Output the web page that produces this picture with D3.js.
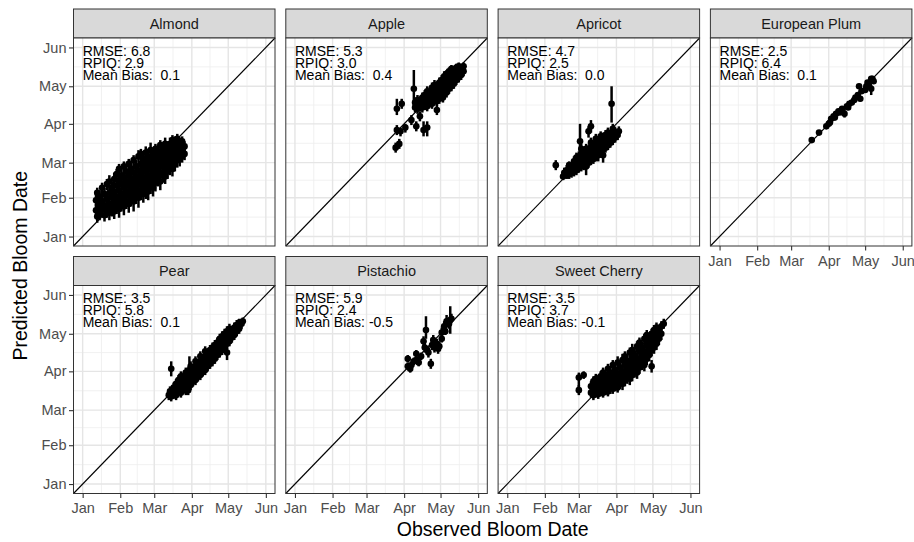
<!DOCTYPE html>
<html>
<head>
<meta charset="utf-8">
<script src="https://cdn.jsdelivr.net/npm/d3@7"></script>
<style>
  body { margin: 0; background: #fff; }
  svg { font-family: "Liberation Sans", Arial, sans-serif; }
</style>
</head>
<body>
<svg id="chart" width="914" height="542"></svg>
<script>
// all dates are day of year (Jan 1 = 1), rows are [observed, predicted, lower, upper]
var crops = ["Almond", "Apple", "Apricot", "European Plum", "Pear", "Pistachio", "Sweet Cherry"];
var rmse = [6.8, 5.3, 4.7, 2.5, 3.5, 5.9, 3.5];
var rpiq = [2.9, 3.0, 2.5, 6.4, 5.8, 2.4, 3.7];
var meanBias = [0.1, 0.4, 0.0, 0.1, 0.1, -0.5, -0.1];
var monthLabels = ["Jan", "Feb", "Mar", "Apr", "May", "Jun"];
var monthDays = [1, 32, 60, 91, 121, 152];

var almond = [
  [12,22,17,27],[12,30,25,35],[13,17,12,21],[13,36,31,40],[14,26,20,31],[15,19,14,25],[15,33,28,38],
  [17,23,17,29],[17,29,24,35],[17,40,35,44],[19,18,13,23],[19,26,20,32],[19,35,30,40],
  [21,22,16,28],[21,31,25,36],[21,43,38,47],[23,20,14,26],[23,27,22,33],[23,36,31,42],[23,45,40,50],
  [25,24,17,29],[25,32,26,38],[25,40,35,45],[27,21,15,27],[27,29,23,35],[27,37,31,42],[27,47,42,52],
  [29,25,19,31],[29,33,27,39],[29,42,36,47],[29,51,46,55],
  [31,23,16,30],[31,30,24,36],[31,38,32,44],[31,46,40,51],[31,55,50,59],
  [33,27,21,33],[33,35,29,40],[33,43,38,49],[33,50,45,56],
  [35,25,18,31],[35,32,26,38],[35,40,34,46],[35,48,42,53],[35,57,52,61],
  [37,29,23,35],[37,37,31,43],[37,45,39,50],[37,53,47,58],
  [39,27,20,34],[39,34,28,40],[39,42,36,48],[39,50,44,55],[39,59,54,63],
  [41,31,25,37],[41,39,33,45],[41,47,41,52],[41,55,50,60],
  [43,29,21,35],[43,36,30,42],[43,44,38,50],[43,52,46,57],[43,62,57,66],
  [45,33,27,39],[45,41,35,47],[45,49,43,55],[45,57,52,62],
  [47,32,24,38],[47,38,32,44],[47,46,40,52],[47,54,48,60],[47,65,60,70],
  [49,36,30,42],[49,43,37,49],[49,51,45,56],[49,59,54,64],[49,67,62,71],
  [51,35,28,41],[51,41,35,47],[51,48,42,54],[51,56,50,61],[51,63,58,68],
  [53,38,31,44],[53,45,39,51],[53,53,47,59],[53,61,56,66],[53,68,63,73],
  [55,37,30,43],[55,44,38,50],[55,50,44,56],[55,58,52,63],[55,65,60,71],
  [57,41,35,47],[57,48,42,54],[57,55,49,60],[57,62,57,67],[57,70,65,76],
  [59,40,33,46],[59,46,40,52],[59,53,47,58],[59,60,54,65],[59,67,62,72],
  [61,44,37,50],[61,51,45,57],[61,57,51,63],[61,64,59,70],[61,71,66,75],
  [63,47,41,53],[63,54,48,60],[63,61,55,66],[63,68,63,73],
  [65,45,38,51],[65,52,46,58],[65,59,53,64],[65,66,61,71],[65,74,69,78],
  [67,50,44,56],[67,57,51,62],[67,63,58,68],[67,70,65,75],
  [69,49,43,55],[69,55,49,61],[69,61,55,66],[69,68,63,73],[69,75,70,80],
  [71,53,47,59],[71,59,53,64],[71,65,60,71],[71,72,67,77],
  [73,56,50,62],[73,62,56,67],[73,68,63,73],[73,75,70,80],
  [75,55,49,61],[75,60,54,65],[75,66,61,71],[75,72,67,78],[75,78,73,82],
  [77,59,53,64],[77,64,59,70],[77,70,65,75],[77,76,71,81],
  [79,62,56,67],[79,67,62,72],[79,73,68,78],[79,79,74,83],
  [81,63,57,68],[81,69,63,74],[81,76,71,80],
  [83,65,60,70],[83,71,66,76],[83,77,72,81],[85,67,62,72],[85,73,68,77]
];
var apple = [
  [84,72,68,76],[87,75,71,79],[85,86,82,90],[88,85,81,88],[92,88,84,91],[85,103,98,111],
  [89,107,103,111],[99,119,105,134],[101,89,85,93],[107,86,81,93],[110,88,81,93],[104,97,93,101],
  [97,94,90,98],[118,102,98,106],[123,112,108,116],
  [100,104,100,108],[100,108,104,112],[102,103,99,107],[102,107,103,111],[102,110,106,114],
  [104,105,101,109],[104,109,105,113],[106,104,100,108],[106,108,104,112],[106,112,108,116],
  [108,106,102,110],[108,110,106,114],[108,114,110,118],
  [110,105,101,109],[110,109,105,113],[110,113,109,117],[110,117,113,121],
  [112,108,104,112],[112,112,108,116],[112,116,112,120],
  [114,107,103,111],[114,111,107,115],[114,115,111,119],[114,120,116,124],
  [116,110,106,114],[116,114,110,118],[116,118,114,122],[116,122,118,126],
  [118,109,105,113],[118,113,109,117],[118,117,113,121],[118,121,117,125],
  [120,111,107,115],[120,115,111,119],[120,119,115,123],[120,124,120,128],
  [122,113,109,117],[122,118,114,122],[122,122,118,126],[122,126,122,130],
  [124,115,111,119],[124,120,116,124],[124,124,120,128],[124,129,125,133],
  [126,116,112,120],[126,121,117,125],[126,126,122,130],[126,131,127,134],
  [128,119,115,123],[128,124,120,128],[128,128,124,132],[128,133,129,136],
  [130,121,117,125],[130,126,122,130],[130,131,127,135],[130,135,131,138],
  [132,123,119,127],[132,128,124,132],[132,133,129,137],
  [134,126,122,130],[134,131,127,135],[134,136,132,139],
  [136,128,124,132],[136,133,129,137],[136,137,133,140],
  [138,130,126,134],[138,135,131,139],[140,133,129,136],[140,137,133,140]
];
var apricot = [
  [41,58,54,62],[47,49,46,52],[48,52,49,56],[50,50,47,54],[50,54,50,58],
  [52,51,47,55],[52,55,51,59],[52,58,54,61],[54,52,48,56],[54,56,52,60],
  [56,53,49,57],[56,57,53,61],[56,61,57,65],[58,54,50,58],[58,59,55,63],[58,64,60,68],
  [60,56,52,60],[60,60,56,64],[60,65,61,69],[61,77,72,91],
  [62,57,53,61],[62,62,58,66],[62,67,63,71],[62,71,67,75],
  [64,58,54,62],[64,63,59,67],[64,68,64,72],
  [66,57,50,61],[66,61,57,65],[66,66,62,70],[66,71,67,75],
  [68,60,56,64],[68,65,61,69],[68,70,66,74],[68,85,80,89],[70,89,84,94],
  [70,62,58,66],[70,67,63,71],[70,72,68,76],[70,76,72,80],
  [72,63,59,67],[72,68,64,72],[72,73,69,77],
  [74,65,61,69],[74,70,66,74],[74,75,71,79],[74,79,75,83],
  [76,66,61,70],[76,72,68,76],[76,77,73,81],
  [78,68,64,72],[78,73,69,77],[78,78,74,82],[78,81,77,85],
  [80,66,60,70],[80,71,67,75],[80,76,72,80],[80,80,76,84],
  [82,72,68,76],[82,77,73,81],[82,82,78,86],
  [84,74,70,78],[84,79,75,83],[84,84,80,88],
  [86,76,72,80],[86,81,77,85],[87,107,92,121],
  [88,78,74,82],[88,83,79,87],[88,87,84,91],[90,80,76,84],[90,84,80,88],[92,82,78,86],[93,85,81,89]
];
var plum = [
  [77,78,76,80],[83,84,82,86],[89,89,87,91],[91,91,89,93],[92,92,90,94],[93,95,93,97],
  [95,97,95,99],[96,96,94,98],[97,99,97,101],[99,101,99,103],[100,100,98,102],[102,103,101,105],
  [104,99,96,103],[106,105,103,107],[107,104,102,106],[108,107,105,109],[110,108,106,110],
  [112,110,108,112],[113,112,110,114],[115,114,112,116],[117,111,109,113],[116,121,119,123],
  [118,117,115,119],[121,118,116,120],[122,121,119,123],[123,124,122,126],[124,122,120,124],
  [126,127,125,129],[128,125,123,127],[126,119,114,122],[127,127,125,129]
];
var pear = [
  [72,72,68,76],[73,75,71,79],[74,71,67,75],[74,93,87,99],
  [76,73,69,77],[76,78,74,82],[78,72,68,76],[78,76,72,80],[78,81,77,85],
  [80,75,71,79],[80,79,75,83],[80,84,80,88],
  [82,74,70,78],[82,78,74,82],[82,83,79,87],[82,87,83,91],
  [84,77,73,81],[84,81,77,85],[84,86,82,90],
  [86,76,72,80],[86,80,76,84],[86,85,81,89],[86,90,86,94],
  [88,76,72,80],[88,79,75,83],[88,84,80,88],[89,92,87,103],
  [90,80,76,84],[90,85,81,89],[90,90,86,94],[90,95,91,99],
  [92,83,79,87],[92,88,84,92],[92,93,89,97],
  [94,84,80,88],[94,89,85,93],[94,95,91,99],[94,99,95,103],
  [96,87,83,91],[96,92,88,96],[96,97,93,101],
  [98,88,84,92],[98,93,89,97],[98,98,94,102],[98,103,99,107],
  [100,91,87,95],[100,96,92,100],[100,101,97,105],
  [102,92,88,96],[102,97,93,101],[102,102,98,106],[102,107,103,111],
  [104,95,91,99],[104,100,96,104],[104,105,101,109],
  [106,97,93,101],[106,102,98,106],[106,108,104,112],
  [108,99,95,103],[108,104,100,108],[108,110,106,114],
  [110,101,97,105],[110,107,103,111],[110,112,108,116],
  [112,104,100,108],[112,109,105,113],[112,114,110,118],
  [114,106,102,110],[114,111,107,115],[114,117,113,121],
  [116,108,104,112],[116,113,109,117],[116,119,115,123],
  [118,110,106,114],[118,116,112,120],[118,121,117,125],
  [120,106,100,110],[120,113,109,117],[120,118,114,122],[120,123,119,127],
  [122,115,111,119],[122,120,116,124],[122,125,121,129],
  [124,118,114,122],[124,123,119,127],[126,120,116,124],[126,126,122,130],
  [128,123,119,127],[128,128,124,132],[130,125,121,129],[130,130,126,133],[132,129,125,132],[133,131,128,134]
];
var pistachio = [
  [94,101,98,104],[94,95,92,98],[96,93,90,96],[97,96,93,99],[99,99,96,102],[101,105,102,108],
  [101,100,97,103],[103,98,95,101],[105,103,100,106],[107,115,111,119],[108,110,106,114],
  [109,124,117,135],[110,108,105,111],[111,106,102,110],[113,97,93,101],[114,112,108,116],
  [115,116,112,120],[116,110,106,114],[118,113,110,117],[119,109,105,113],[120,111,107,115],
  [122,122,118,126],[122,117,114,121],[124,127,123,131],[125,123,120,127],[126,131,127,136],
  [128,129,125,133],[129,132,121,143],[130,133,130,137]
];
var cherry = [
  [60,76,72,80],[60,86,76,90],[64,88,85,91],[120,95,90,100],
  [70,74,70,78],[70,79,75,83],[72,72,68,77],[72,77,73,81],[72,83,79,87],
  [74,74,70,78],[74,80,75,84],[74,85,81,89],[76,73,69,77],[76,78,74,83],[76,83,79,88],
  [78,75,71,80],[78,81,76,85],[78,87,83,91],
  [80,74,70,78],[80,79,75,84],[80,84,80,89],[80,90,86,94],
  [82,76,72,81],[82,82,77,86],[82,88,83,92],
  [84,75,71,80],[84,80,76,85],[84,86,81,90],[84,93,88,97],
  [86,78,73,82],[86,84,79,88],[86,90,86,95],
  [88,77,73,82],[88,82,78,87],[88,88,83,92],[88,96,91,100],
  [90,80,75,84],[90,86,81,90],[90,92,88,97],
  [92,78,74,83],[92,84,79,88],[92,89,85,94],[92,98,94,103],
  [94,82,77,86],[94,87,83,92],[94,94,89,98],
  [96,81,76,85],[96,86,81,90],[96,91,86,96],[96,100,96,105],
  [98,84,79,88],[98,89,85,94],[98,96,91,100],[98,103,99,107],
  [100,86,81,90],[100,92,87,97],[100,99,94,104],
  [102,85,80,89],[102,90,85,95],[102,96,91,101],[102,106,101,110],
  [104,88,83,93],[104,94,89,99],[104,101,96,106],[104,108,104,113],
  [106,91,86,96],[106,97,92,102],[106,104,99,109],
  [108,90,85,94],[108,95,90,100],[108,101,96,106],[108,111,106,115],
  [110,94,89,99],[110,100,95,105],[110,107,102,112],[110,114,109,118],
  [112,97,92,102],[112,103,98,108],[112,110,105,115],
  [114,96,91,101],[114,101,96,106],[114,107,102,112],[114,117,112,121],
  [116,101,96,105],[116,106,101,111],[116,112,107,117],[116,120,115,124],
  [118,104,99,109],[118,110,105,115],[118,116,111,120],
  [120,108,103,113],[120,114,109,119],[120,121,116,125],
  [122,110,105,115],[122,117,112,122],[122,124,120,128],
  [124,113,108,118],[124,120,115,124],[124,126,122,130],
  [126,117,112,122],[126,123,118,127],[128,121,116,125],[128,127,122,131],[130,129,125,133]
];
var cropData = [almond, apple, apricot, plum, pear, pistachio, cherry];

var svg = d3.select("#chart");
var padL = 73.5, padT = 9, pw = 201.5, ph = 208, sh = 29, gapX = 10.8, gapY = 10.5;
var pad = (monthDays[5] - monthDays[0]) * 0.05;
var dom = [monthDays[0] - pad, monthDays[5] + pad];
var x = d3.scaleLinear().domain(dom).range([0, pw]);
var y = d3.scaleLinear().domain(dom).range([ph, 0]);
var minorDays = d3.pairs(monthDays).map(function(p) { return (p[0] + p[1]) / 2; });

var fmt = function(v) { return (v < 0 ? "" : " ") + v.toFixed(1); };

function styleAxis(a) {
  a.select(".domain").remove();
  a.selectAll(".tick line").attr("stroke", "#333").attr("stroke-width", 1.1);
  a.selectAll(".tick text").attr("fill", "#4d4d4d").style("font-size", "14.5px")
    .style("font-family", "'Liberation Sans', Arial, sans-serif");
}

crops.forEach(function(name, i) {
  var col = i % 4, row = Math.floor(i / 4);
  var g = svg.append("g")
    .attr("transform", "translate(" + (padL + col * (pw + gapX)) + "," + (padT + row * (sh + ph + gapY)) + ")");

  g.append("rect").attr("width", pw).attr("height", sh)
    .attr("fill", "#d9d9d9").attr("stroke", "#333").attr("stroke-width", 1);
  g.append("text").attr("x", pw / 2).attr("y", sh / 2).attr("dy", "0.36em")
    .attr("text-anchor", "middle").attr("fill", "#1a1a1a").style("font-size", "14.5px")
    .text(name);

  var p = g.append("g").attr("transform", "translate(0," + sh + ")");
  p.append("rect").attr("width", pw).attr("height", ph).attr("fill", "#fff");

  // grid
  p.selectAll(".mx").data(minorDays).enter().append("line")
    .attr("x1", d => x(d)).attr("x2", d => x(d)).attr("y1", 0).attr("y2", ph)
    .attr("stroke", "#ededed").attr("stroke-width", 0.8);
  p.selectAll(".my").data(minorDays).enter().append("line")
    .attr("y1", d => y(d)).attr("y2", d => y(d)).attr("x1", 0).attr("x2", pw)
    .attr("stroke", "#ededed").attr("stroke-width", 0.8);
  p.selectAll(".gx").data(monthDays).enter().append("line")
    .attr("x1", d => x(d)).attr("x2", d => x(d)).attr("y1", 0).attr("y2", ph)
    .attr("stroke", "#e5e5e5").attr("stroke-width", 1.4);
  p.selectAll(".gy").data(monthDays).enter().append("line")
    .attr("y1", d => y(d)).attr("y2", d => y(d)).attr("x1", 0).attr("x2", pw)
    .attr("stroke", "#e5e5e5").attr("stroke-width", 1.4);

  // 1:1 line
  p.append("line")
    .attr("x1", x(dom[0])).attr("y1", y(dom[0])).attr("x2", x(dom[1])).attr("y2", y(dom[1]))
    .attr("stroke", "#000").attr("stroke-width", 1.1);

  var rows = cropData[i];
  p.selectAll(".eb").data(rows).enter().append("line")
    .attr("x1", d => x(d[0])).attr("x2", d => x(d[0]))
    .attr("y1", d => y(d[2])).attr("y2", d => y(d[3]))
    .attr("stroke", "#000").attr("stroke-width", 2.5);
  p.selectAll(".pt").data(rows).enter().append("circle")
    .attr("cx", d => x(d[0])).attr("cy", d => y(d[1])).attr("r", 3.3)
    .attr("fill", "#000");

  var ann = p.append("text").attr("y", y(monthDays[5]) + 8.5)
    .attr("fill", "#000").style("font-size", "14px").style("white-space", "pre");
  ["RMSE: " + rmse[i].toFixed(1), "RPIQ: " + rpiq[i].toFixed(1), "Mean Bias: " + fmt(meanBias[i])]
    .forEach(function(t, k) {
      ann.append("tspan").attr("x", x(monthDays[0])).attr("dy", k ? 12 : 0).text(t);
    });

  p.append("rect").attr("width", pw).attr("height", ph)
    .attr("fill", "none").attr("stroke", "#333").attr("stroke-width", 1);

  if (col === 0) {
    var ya = p.append("g").call(d3.axisLeft(y).tickValues(monthDays)
      .tickFormat((d, k) => monthLabels[k]).tickSize(4.5).tickPadding(2.5));
    styleAxis(ya);
  }
  if (i + 4 >= crops.length) {
    var xa = p.append("g").attr("transform", "translate(0," + ph + ")")
      .call(d3.axisBottom(x).tickValues(monthDays)
      .tickFormat((d, k) => monthLabels[k]).tickSize(4.5).tickPadding(5));
    styleAxis(xa);
  }
});

var fullW = 4 * pw + 3 * gapX;
svg.append("text").attr("x", padL + fullW / 2).attr("y", 536)
  .attr("text-anchor", "middle").attr("fill", "#000").style("font-size", "19.5px")
  .text("Observed Bloom Date");
svg.append("text").attr("transform", "translate(27," + (padT + sh + (2 * ph + sh + gapY) / 2) + ") rotate(-90)")
  .attr("text-anchor", "middle").attr("fill", "#000").style("font-size", "19.5px")
  .text("Predicted Bloom Date");
</script>
</body>
</html>
